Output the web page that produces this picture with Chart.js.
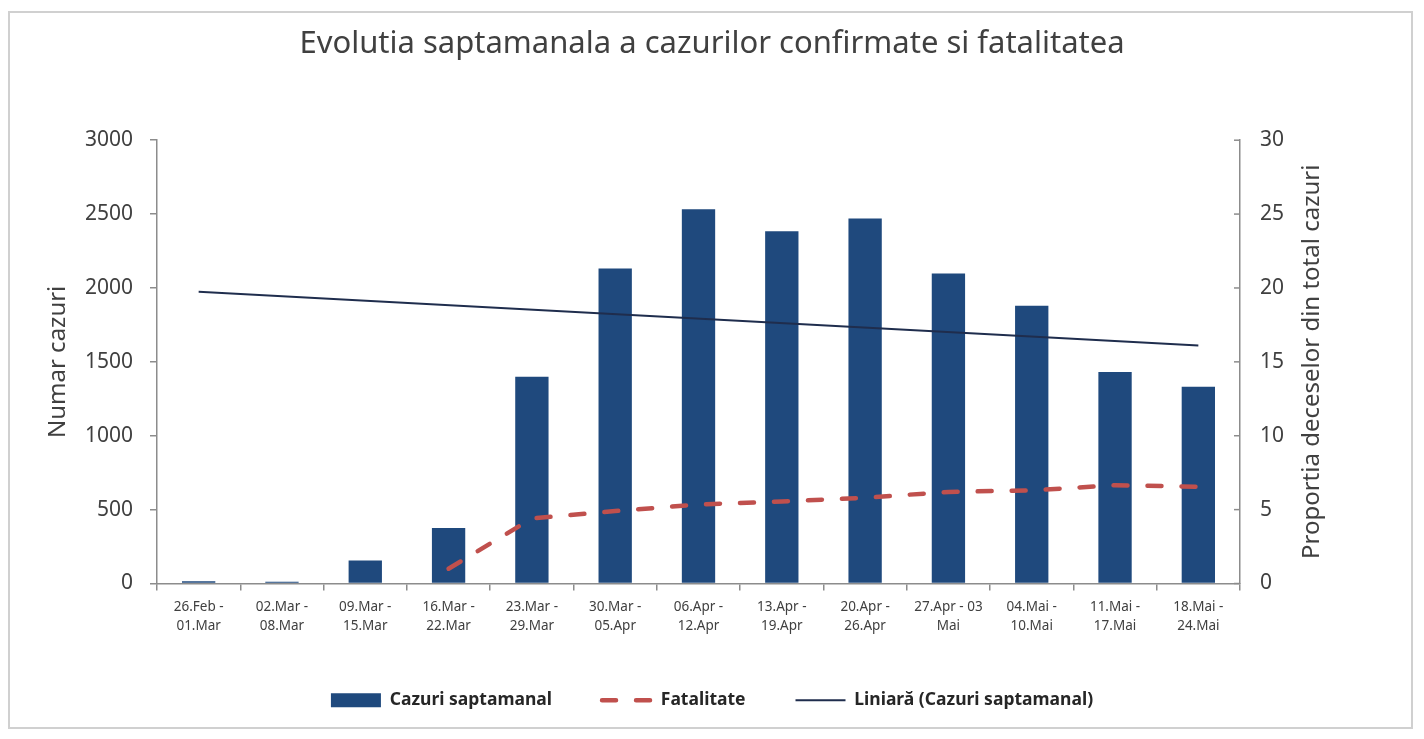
<!DOCTYPE html>
<html lang="ro">
<head>
    <meta charset="UTF-8">
    <title>Evolutia saptamanala a cazurilor confirmate si fatalitatea</title>
    <script src="https://cdn.jsdelivr.net/npm/chart.js"></script>
    <style>
        html, body { margin: 0; padding: 0; background: #fff; }
        .frame {
            position: absolute; left: 8px; top: 11px;
            width: 1401px; height: 714px;
            border: 2px solid #d0d0d0;
        }
        canvas { position: absolute; left: 0; top: 0; }
    </style>
</head>
<body>
    <div class="frame"></div>
    <canvas id="covidChart" width="1424" height="739"></canvas>

    <script>
        // Date
        const weeks = [
            ['26.Feb -', '01.Mar'], ['02.Mar -', '08.Mar'], ['09.Mar -', '15.Mar'],
            ['16.Mar -', '22.Mar'], ['23.Mar -', '29.Mar'], ['30.Mar -', '05.Apr'],
            ['06.Apr -', '12.Apr'], ['13.Apr -', '19.Apr'], ['20.Apr -', '26.Apr'],
            ['27.Apr - 03', 'Mai'], ['04.Mai -', '10.Mai'], ['11.Mai -', '17.Mai'],
            ['18.Mai -', '24.Mai']
        ];
        const cazuriSaptamanal = [15, 12, 155, 375, 1400, 2132, 2532, 2383, 2470, 2098, 1880, 1432, 1331];
        const fatalitate = [null, null, null, 1.0, 4.4, 4.9, 5.35, 5.55, 5.8, 6.2, 6.3, 6.65, 6.55];
        // linia de tendinta: doar capetele, restul se uneste drept
        const liniara = [1975, null, null, null, null, null, null, null, null, null, null, null, 1610];
        const ticksStanga = [0, 500, 1000, 1500, 2000, 2500, 3000];
        const ticksDreapta = [0, 5, 10, 15, 20, 25, 30];

        const FONT = "'Noto Sans', sans-serif";
        const TEXT = '#404040';
        const AXIS = '#8c8c8c';

        // titlul axei din dreapta (citit de jos in sus) + liniute spre interior
        const rightAxisExtras = {
            id: 'rightAxisExtras',
            afterDraw(chart) {
                const { ctx, chartArea } = chart;
                const s = chart.scales.y1;
                ctx.save();
                ctx.strokeStyle = AXIS;
                ctx.lineWidth = 1.5;
                s.ticks.forEach(t => {
                    const y = s.getPixelForValue(t.value);
                    ctx.beginPath();
                    ctx.moveTo(chartArea.right, y);
                    ctx.lineTo(chartArea.right - 6, y);
                    ctx.stroke();
                });
                ctx.translate(1312, (chartArea.top + chartArea.bottom) / 2);
                ctx.rotate(-Math.PI / 2);
                ctx.fillStyle = TEXT;
                ctx.font = "24px " + FONT;
                ctx.textAlign = 'center';
                ctx.textBaseline = 'middle';
                ctx.fillText('Proportia deceselor din total cazuri', 0, 0);
                ctx.restore();
            }
        };

        const defaultLabels = Chart.defaults.plugins.legend.labels.generateLabels;

        new Chart(document.getElementById('covidChart'), {
            type: 'bar',
            data: {
                labels: weeks,
                datasets: [
                    {
                        label: 'Cazuri saptamanal',
                        data: cazuriSaptamanal,
                        backgroundColor: '#1f497d',
                        borderWidth: 0,
                        pointStyle: 'rect',
                        categoryPercentage: 1,
                        barPercentage: 0.4,
                        yAxisID: 'y',
                        order: 3
                    },
                    {
                        type: 'line',
                        label: 'Fatalitate',
                        data: fatalitate,
                        borderColor: '#c0504d',
                        backgroundColor: '#c0504d',
                        borderWidth: 4.5,
                        borderDash: [14, 20],
                        borderCapStyle: 'round',
                        pointRadius: 0,
                        pointStyle: 'line',
                        tension: 0,
                        yAxisID: 'y1',
                        order: 1
                    },
                    {
                        type: 'line',
                        label: 'Liniară (Cazuri saptamanal)',
                        data: liniara,
                        borderColor: '#1f2d4d',
                        backgroundColor: '#1f2d4d',
                        borderWidth: 2,
                        pointRadius: 0,
                        pointStyle: 'line',
                        spanGaps: true,
                        yAxisID: 'y',
                        order: 2
                    }
                ]
            },
            options: {
                responsive: false,
                animation: false,
                devicePixelRatio: 1,
                layout: { padding: { left: 20, right: 20, top: 20, bottom: 20 } },
                plugins: {
                    tooltip: { enabled: false },
                    title: {
                        display: true,
                        text: 'Evolutia saptamanala a cazurilor confirmate si fatalitatea',
                        color: TEXT,
                        font: { family: FONT, size: 31, weight: 'normal' },
                        padding: { top: 6, bottom: 77 }
                    },
                    legend: {
                        position: 'bottom',
                        labels: {
                            usePointStyle: true,
                            pointStyleWidth: 50,
                            boxHeight: 14,
                            padding: 50,
                            color: '#262626',
                            font: { family: FONT, size: 17.5, weight: 'bold' },
                            sort: (a, b) => a.datasetIndex - b.datasetIndex,
                            generateLabels(chart) {
                                const items = defaultLabels(chart);
                                items.forEach(it => {
                                    const ds = chart.data.datasets[it.datasetIndex];
                                    it.lineDash = ds.borderDash || [];
                                    it.lineCap = ds.borderCapStyle || 'butt';
                                    it.lineWidth = ds.type === 'line' ? ds.borderWidth : 0;
                                });
                                return items;
                            }
                        }
                    }
                },
                scales: {
                    x: {
                        grid: { drawOnChartArea: false, tickLength: 7, color: AXIS, lineWidth: 1.5, offset: true },
                        border: { color: AXIS, width: 1.5 },
                        ticks: {
                            color: TEXT, autoSkip: false, maxRotation: 0, padding: 8,
                            font: { family: FONT, size: 13.5, lineHeight: 1.35 }
                        },
                        afterFit(scale) { scale.height = 58; }
                    },
                    y: {
                        position: 'left',
                        min: 0, max: 3000,
                        afterBuildTicks(scale) { scale.ticks = ticksStanga.map(v => ({ value: v })); },
                        grid: { drawOnChartArea: false, tickLength: 7, color: AXIS, lineWidth: 1.5 },
                        border: { color: AXIS, width: 1.5 },
                        ticks: {
                            color: TEXT, padding: 17, font: { family: FONT, size: 21 },
                            callback: v => String(v)
                        },
                        title: {
                            display: true, text: 'Numar cazuri', color: TEXT,
                            font: { family: FONT, size: 24 }, padding: { top: 24 }
                        },
                        afterFit(scale) { scale.width = 137; }
                    },
                    y1: {
                        position: 'right',
                        min: 0, max: 30,
                        afterBuildTicks(scale) { scale.ticks = ticksDreapta.map(v => ({ value: v })); },
                        grid: { drawOnChartArea: false, drawTicks: false, color: AXIS },
                        border: { color: AXIS, width: 1.5 },
                        ticks: {
                            color: TEXT, padding: 20, font: { family: FONT, size: 21 },
                            callback: v => String(v)
                        },
                        afterFit(scale) { scale.width = 164; }
                    }
                }
            },
            plugins: [rightAxisExtras]
        });
    </script>
</body>
</html>
